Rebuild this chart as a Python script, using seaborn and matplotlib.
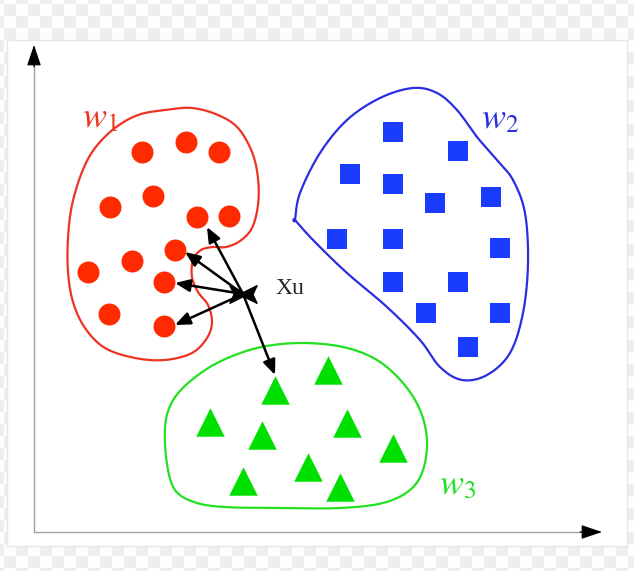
"""
Diagrama de classificação: três classes (w1, w2, w3) e um ponto Xu
ligado por setas aos vizinhos mais próximos.
"""

import numpy as np
import matplotlib
matplotlib.use("Agg")
import matplotlib.pyplot as plt
from matplotlib.patches import Rectangle
import seaborn as sns

sns.set_style("white")
plt.rcParams['mathtext.fontset'] = 'stix'
plt.rcParams['font.family'] = ['Liberation Serif', 'DejaVu Serif']

# Classe w1 (círculos vermelhos)
w1_x = [108, 152, 185, 119, 76, 163, 195, 141, 98, 54, 130, 75, 130]
w1_y = [380, 390, 380, 336, 325, 315, 316, 282, 271, 260, 250, 218, 206]

# Classe w2 (quadrados azuis)
w2_x = [359, 424, 316, 359, 401, 457, 303, 359, 466, 359, 424, 392, 466, 434]
w2_y = [400, 381, 358, 348, 329, 335, 293, 293, 284, 250, 250, 219, 219, 185]

# Classe w3 (triângulos verdes)
w3_x = [241, 294, 176, 313, 228, 359, 274, 209, 306]
w3_y = [142, 162, 110, 109, 97, 84, 65, 51, 45]

# Contornos das classes
w1_edge_x = [131, 158, 184, 204, 218, 224, 224, 218, 206, 192, 179, 167, 159, 158, 164,
             174, 178, 173, 158, 131, 101, 71, 51, 39, 34, 34, 38, 48, 61, 81, 104]
w1_edge_y = [422, 424, 417, 404, 380, 354, 327, 304, 291, 285, 285, 282, 272, 255, 240,
             227, 210, 194, 179, 172, 174, 184, 204, 230, 260, 294, 327, 360, 384, 404, 417]
w2_edge_x = [261, 261, 266, 286, 313, 346, 379, 403, 423, 443, 463, 479, 491, 494, 489,
             476, 453, 428, 406, 386, 353, 313, 279]
w2_edge_y = [312, 312, 339, 379, 412, 434, 444, 439, 422, 395, 372, 352, 319, 269, 219,
             179, 157, 152, 165, 192, 225, 259, 292]
w3_edge_x = [131, 137, 153, 183, 223, 266, 309, 343, 369, 386, 393, 389, 376, 349, 306,
             249, 190, 160, 141, 133]
w3_edge_y = [104, 128, 148, 169, 184, 189, 185, 172, 149, 122, 92, 62, 42, 29, 24,
             24, 25, 30, 42, 68]

# Ponto Xu e destinos das setas
xu = (209, 238)
arrow_x = [173, 151, 141, 141, 241]
arrow_y = [305, 280, 249, 207, 157]

RED, BLUE, GREEN = "#ff2a00", "#1a3cff", "#00e000"
RED_LINE, BLUE_LINE, GREEN_LINE = "#ee3322", "#2a2ee0", "#22e022"


def smooth_closed(xs, ys, n=24):
    """Curva fechada suave (Catmull-Rom) pelos pontos do contorno."""
    P = np.column_stack([xs, ys]).astype(float)
    N = len(P)
    t = np.linspace(0, 1, n, endpoint=False)[:, None]
    segs = []
    for i in range(N):
        p0, p1, p2, p3 = P[i - 1], P[i], P[(i + 1) % N], P[(i + 2) % N]
        segs.append(0.5 * (2 * p1 + (-p0 + p2) * t
                           + (2 * p0 - 5 * p1 + 4 * p2 - p3) * t ** 2
                           + (-p0 + 3 * p1 - 3 * p2 + p3) * t ** 3))
    out = np.vstack(segs + [P[:1]])
    return out[:, 0], out[:, 1]


fig = plt.figure(figsize=(6.34, 5.71), dpi=100)
ax = fig.add_axes([0, 0, 1, 1])
ax.set_xlim(-34, 600)
ax.set_ylim(-39, 532)
ax.axis('off')

# Fundo xadrez e cartão branco
cols = (np.arange(634) + 8) // 12
rows = (np.arange(571) + 8) // 12
checker = ((rows[:, None] + cols[None, :]) % 2) * 0.06 + 0.93
ax.imshow(checker, cmap='gray', vmin=0, vmax=1, extent=(-34, 600, -39, 532),
          origin='upper', aspect='auto', interpolation='nearest', zorder=0)
ax.add_patch(Rectangle((-27, -14), 620, 506, facecolor='white',
                       edgecolor='#e8e8e8', lw=1, zorder=1))

# Eixos com setas
ax.plot([0, 0], [0, 475], color='#a0a0a0', lw=1, zorder=2)
ax.plot([0, 555], [0, 0], color='#a0a0a0', lw=1, zorder=2)
head = dict(arrowstyle='-|>,head_length=0.65,head_width=0.22', color='black',
            lw=0.8, mutation_scale=20, shrinkA=0, shrinkB=0)
ax.annotate('', xy=(0, 487), xytext=(0, 465), arrowprops=head, zorder=3)
ax.annotate('', xy=(568, 0), xytext=(546, 0), arrowprops=head, zorder=3)

# Contornos
for ex, ey, c in [(w1_edge_x, w1_edge_y, RED_LINE),
                  (w2_edge_x, w2_edge_y, BLUE_LINE),
                  (w3_edge_x, w3_edge_y, GREEN_LINE)]:
    sx, sy = smooth_closed(ex, ey)
    ax.plot(sx, sy, color=c, lw=1.6, zorder=3)

# Pontos das classes
sns.scatterplot(x=w1_x, y=w1_y, marker='o', s=250, color=RED, linewidth=0, ax=ax, zorder=4)
sns.scatterplot(x=w2_x, y=w2_y, marker='s', s=225, color=BLUE, linewidth=0, ax=ax, zorder=4)
sns.scatterplot(x=w3_x, y=w3_y, marker='^', s=420, color=GREEN, linewidth=0, ax=ax, zorder=4)

# Setas de Xu para os vizinhos
arr = dict(arrowstyle='-|>,head_length=0.6,head_width=0.25', color='black',
           lw=1.8, mutation_scale=15, shrinkA=0, shrinkB=0)
for tx, ty in zip(arrow_x, arrow_y):
    ax.annotate('', xy=(tx, ty), xytext=xu, arrowprops=arr, zorder=5)

bowtie = [(-1, 0.65), (0, 0.15), (1, 0.65), (0.7, 0), (1, -0.65),
          (0, -0.15), (-1, -0.65), (-0.7, 0), (-1, 0.65)]
ax.scatter([xu[0]], [xu[1]], marker=bowtie, s=380, color='black', zorder=6)
ax.text(241, 244, 'Xu', fontsize=17, va='center', ha='left', zorder=6)

# Rótulos das classes
ax.text(66, 413, r'$w_1$', color=RED_LINE, fontsize=26, ha='center', va='center', zorder=6)
ax.text(466, 412, r'$w_2$', color=BLUE_LINE, fontsize=26, ha='center', va='center', zorder=6)
ax.text(423, 46, r'$w_3$', color=GREEN_LINE, fontsize=26, ha='center', va='center', zorder=6)

fig.savefig('out.png', dpi=100)
